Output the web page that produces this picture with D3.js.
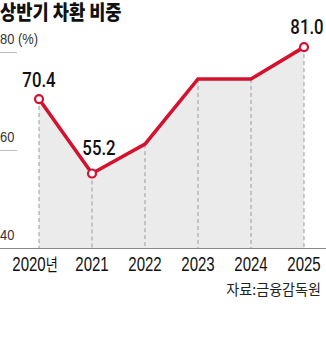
<!DOCTYPE html>
<html>
<head>
<meta charset="utf-8">
<script src="https://cdn.jsdelivr.net/npm/d3@7"></script>
<style>
  html, body { margin: 0; padding: 0; background: #fff; }
  svg { display: block; }
</style>
</head>
<body>
<svg id="chart" width="326" height="351"></svg>
<script>
// 상반기 차환 비중 (%)
const years = ["2020", "2021", "2022", "2023", "2024", "2025"];
const yearLabels = ["2020년", "2021", "2022", "2023", "2024", "2025"];
const shares = [70.4, 55.2, 61.2, 74.5, 74.5, 81.0];
const labeledYears = ["2020", "2021", "2025"];
const yTicks = [40, 60, 80];
const yTickLabels = ["40", "60", "80 (%)"];

const RED = "#d4122f";
const LATIN = "'Liberation Sans', Arial, sans-serif";
const HANGUL = "'Noto Sans CJK KR', 'Noto Sans', sans-serif";

const svg = d3.select("#chart");

const x = d3.scalePoint().domain(years).range([39, 304]);
const y = d3.scaleLinear().domain([40, 80]).range([248, 52]);

const pts = years.map((yr, i) => ({ year: yr, value: shares[i], label: yearLabels[i] }));

// condensed text helper: horizontal squeeze keeps the narrow newspaper look
function label(g, txt, px, py, opts) {
  return g.append("text")
    .attr("transform", `translate(${px},${py}) scale(${opts.sx || 1},1)`)
    .attr("text-anchor", opts.anchor || "start")
    .attr("font-family", opts.family || LATIN)
    .attr("font-size", opts.size)
    .attr("font-weight", opts.weight || "normal")
    .attr("fill", opts.fill || "#111")
    .text(txt);
}

// title
label(svg, "상반기 차환 비중", 0, 19.5, { family: HANGUL, size: 20.5, weight: 900, sx: 0.86 });

// area under the line
const area = d3.area()
  .x(d => x(d.year))
  .y0(y(40))
  .y1(d => y(d.value));
svg.append("path").datum(pts).attr("d", area).attr("fill", "#ebebeb");

// dashed drop lines
svg.append("g").selectAll("line").data(pts).join("line")
  .attr("x1", d => x(d.year)).attr("x2", d => x(d.year))
  .attr("y1", d => y(d.value)).attr("y2", y(40))
  .attr("stroke", "#9a9a9a").attr("stroke-width", 1)
  .attr("stroke-dasharray", "4,3");

// y ticks: short rules with labels, full-width baseline at 40
const tickG = svg.append("g");
yTicks.forEach((t, i) => {
  if (t === 40) {
    tickG.append("line").attr("x1", 0).attr("x2", 326)
      .attr("y1", y(t) + 0.5).attr("y2", y(t) + 0.5)
      .attr("stroke", "#8a8a8a").attr("stroke-width", 1);
  } else {
    tickG.append("line").attr("x1", 0).attr("x2", 17)
      .attr("y1", y(t) + 0.5).attr("y2", y(t) + 0.5)
      .attr("stroke", "#bdbdbd").attr("stroke-width", 1);
  }
  label(tickG, yTickLabels[i], 0, y(t) - 8, { size: 15, sx: 0.86, fill: "#333" });
});

// line
const line = d3.line().x(d => x(d.year)).y(d => y(d.value));
svg.append("path").datum(pts).attr("d", line)
  .attr("fill", "none").attr("stroke", RED).attr("stroke-width", 3.6)
  .attr("stroke-linejoin", "miter");

// end markers on labeled points
svg.append("g").selectAll("circle")
  .data(pts.filter(d => labeledYears.includes(d.year))).join("circle")
  .attr("cx", d => x(d.year)).attr("cy", d => y(d.value)).attr("r", 4)
  .attr("fill", "#fff").attr("stroke", RED).attr("stroke-width", 2.2);

// value labels
const valueOffset = { "2020": [0, -12], "2021": [7, -19], "2025": [3, -13] };
const valG = svg.append("g");
pts.filter(d => labeledYears.includes(d.year)).forEach(d => {
  const [dx, dy] = valueOffset[d.year];
  label(valG, d.value.toFixed(1), x(d.year) + dx, y(d.value) + dy,
    { family: "Roboto, 'Liberation Sans', Arial, sans-serif", size: 21, weight: 500, sx: 0.8, anchor: "middle", fill: "#111" });
});

// x-axis year labels
const xG = svg.append("g");
pts.forEach((d, i) => {
  const dx = i === 0 ? -4 : 0;
  const t = xG.append("text")
    .attr("transform", `translate(${x(d.year) + dx},271) scale(0.77,1)`)
    .attr("text-anchor", "middle")
    .attr("font-size", 19.5)
    .attr("fill", "#111");
  if (i === 0) {
    t.append("tspan").attr("font-family", LATIN).text(d.year);
    t.append("tspan").attr("font-family", HANGUL).attr("font-size", 17).text("년");
  } else {
    t.attr("font-family", LATIN).text(d.label);
  }
});

// source
label(svg, "자료:금융감독원", 321, 295, { family: HANGUL, size: 15, sx: 0.94, anchor: "end", fill: "#222" });
</script>
</body>
</html>
